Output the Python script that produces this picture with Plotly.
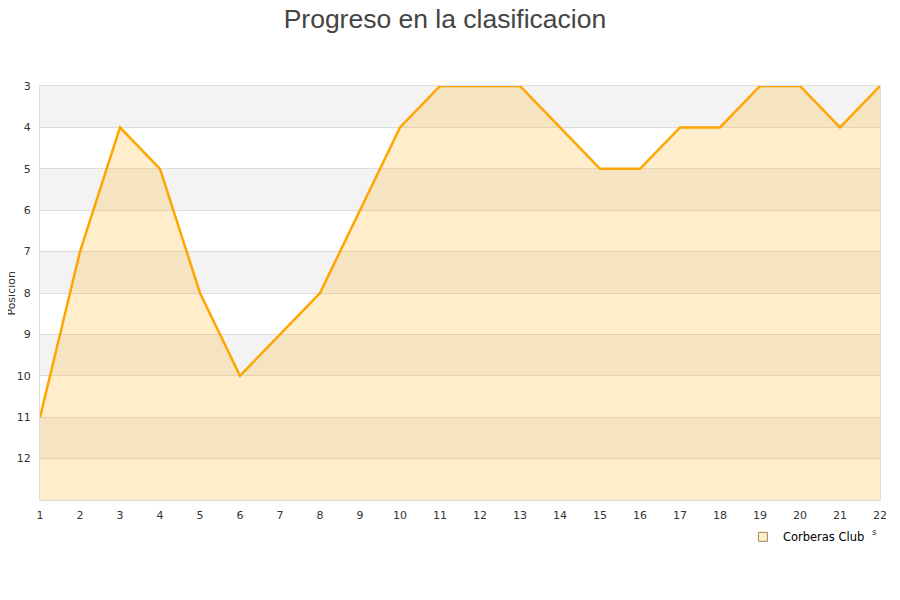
import plotly.graph_objects as go

jornadas = list(range(1, 23))
posiciones = [11, 7, 4, 5, 8, 10, 9, 8, 6, 4, 3, 3, 3, 4, 5, 5, 4, 4, 3, 3, 4, 3]
equipo = "Corberas Club"
y_ticks = list(range(3, 13))
gray_bands = [(3, 4), (5, 6), (7, 8), (9, 10), (11, 12)]

fig = go.Figure()
fig.add_trace(go.Scatter(x=jornadas, y=[13] * len(jornadas), mode="lines",
                         line=dict(width=0), showlegend=False, hoverinfo="skip"))
fig.add_trace(go.Scatter(x=jornadas, y=posiciones, mode="lines", fill="tonexty",
                         fillcolor="rgba(255,165,0,0.2)",
                         line=dict(color="#ffa500", width=2.5), showlegend=False, name=equipo))
fig.add_trace(go.Scatter(x=[None], y=[None], mode="markers", name=equipo,
                         marker=dict(symbol="square", size=9, color="#ffeecc",
                                     line=dict(color="#a08860", width=1))))

shapes = []
for a, b in gray_bands:
    shapes.append(dict(type="rect", xref="paper", x0=0, x1=1, yref="y", y0=a, y1=b,
                       fillcolor="#f3f3f3", line=dict(width=0), layer="below"))

fig.update_layout(
    width=900, height=600,
    margin=dict(l=32, r=28, t=78, b=108),
    paper_bgcolor="white", plot_bgcolor="white",
    font=dict(family="DejaVu Sans", size=11, color="#333"),
    title=dict(text="Progreso en la clasificacion", x=0.4855, xanchor="center",
               y=0.997, yanchor="top",
               font=dict(family="Liberation Sans", size=26.5, color="#444")),
    shapes=shapes,
    xaxis=dict(range=[1, 22], tickvals=jornadas, showgrid=False, zeroline=False,
               showline=True, linecolor="#dddddd", mirror=True, ticks="",
               ticklabelstandoff=5, automargin=False,
               tickfont=dict(size=11, color="#333")),
    yaxis=dict(range=[13, 3], tickvals=y_ticks, showgrid=True, gridcolor="#dddddd",
               zeroline=False, showline=True, linecolor="#dddddd", mirror=True,
               ticks="", ticklabelstandoff=6, automargin=False,
               tickfont=dict(size=11, color="#333")),
    showlegend=True,
    legend=dict(x=0.988, xanchor="right", y=-0.089, yanchor="middle",
                bgcolor="rgba(0,0,0,0)", font=dict(size=11.5, color="#000")),
    annotations=[
        dict(text="Posicion", xref="paper", yref="paper", x=-0.035, y=0.5,
             textangle=-90, showarrow=False, xanchor="center", yanchor="middle",
             font=dict(size=11, color="#333")),
        dict(text="s", xref="paper", yref="paper", x=0.994, y=-0.077,
             showarrow=False, xanchor="center", yanchor="middle",
             font=dict(size=9, color="#333")),
    ],
)

fig.write_html("out.html")
